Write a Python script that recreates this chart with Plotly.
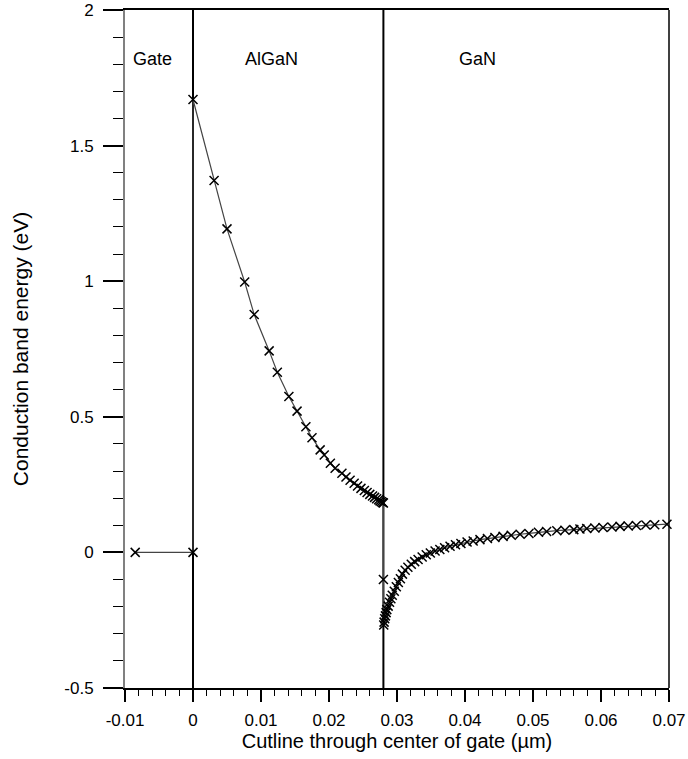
import plotly.graph_objects as go

# ---- data ----
gate_x = [-0.0085, 0.0]
gate_y = [0.0, 0.0]

algan_x = [0.0, 0.0031, 0.0050, 0.0076, 0.0090, 0.0112, 0.0124, 0.0141, 0.0153, 0.0166,
           0.0175, 0.0187, 0.0193, 0.0202, 0.0209, 0.0219, 0.0225, 0.0231, 0.0237, 0.0242,
           0.0247, 0.0252, 0.0256, 0.0260, 0.0264, 0.0267, 0.0270, 0.0273, 0.0275, 0.0277,
           0.0279, 0.0280]
algan_y = [1.67, 1.371, 1.193, 0.997, 0.877, 0.743, 0.664, 0.575, 0.521, 0.463,
           0.423, 0.378, 0.359, 0.329, 0.310, 0.292, 0.278, 0.266, 0.255, 0.245,
           0.236, 0.228, 0.221, 0.214, 0.208, 0.203, 0.198, 0.194, 0.190, 0.187,
           0.184, 0.182]

gan_x = [0.0280, 0.02805, 0.0281, 0.0282, 0.0283, 0.0284, 0.0285, 0.0287, 0.0289, 0.0291,
         0.0293, 0.0296, 0.0299, 0.0302, 0.0305, 0.0308, 0.0312, 0.0316, 0.0321, 0.0326,
         0.0331, 0.0337, 0.0343, 0.0349, 0.0356, 0.0363, 0.0370, 0.0378, 0.0386, 0.0394,
         0.0403, 0.0412, 0.0422, 0.0433, 0.0444, 0.0456, 0.0468, 0.0481, 0.0494, 0.0508,
         0.0520, 0.0535, 0.0547, 0.0560, 0.0569, 0.0579, 0.0591, 0.0603, 0.0616, 0.0628,
         0.0640, 0.0652, 0.0666, 0.0679, 0.0697]
gan_y = [-0.100, -0.268, -0.257, -0.245, -0.234, -0.222, -0.211, -0.198, -0.184, -0.171,
         -0.158, -0.143, -0.127, -0.111, -0.097, -0.080, -0.066, -0.055, -0.044, -0.034,
         -0.026, -0.017, -0.009, -0.002, 0.005, 0.011, 0.017, 0.023, 0.028, 0.033,
         0.038, 0.042, 0.047, 0.051, 0.055, 0.059, 0.063, 0.067, 0.070, 0.074,
         0.077, 0.080, 0.082, 0.084, 0.086, 0.088, 0.090, 0.092, 0.094, 0.096,
         0.097, 0.099, 0.101, 0.102, 0.104]

boundaries = [0.0, 0.028]
regions = ["Gate", "AlGaN", "GaN"]
region_x = [-0.0059, 0.0116, 0.0419]
region_y = 1.82

x_ticks = [-0.01, 0, 0.01, 0.02, 0.03, 0.04, 0.05, 0.06, 0.07]
x_labels = ["-0.01", "0", "0.01", "0.02", "0.03", "0.04", "0.05", "0.06", "0.07"]
y_ticks = [-0.5, 0, 0.5, 1, 1.5, 2]
y_labels = ["-0.5", "0", "0.5", "1", "1.5", "2"]

FONT = "Liberation Sans, Arial, sans-serif"

fig = go.Figure()

for bx in boundaries:
    fig.add_shape(type="line", x0=bx, x1=bx, xref="x", y0=0, y1=1, yref="paper",
                  line=dict(color="black", width=2), layer="below")

all_x = gate_x + algan_x + gan_x
all_y = gate_y + algan_y + gan_y
fig.add_trace(go.Scatter(
    x=all_x, y=all_y, mode="lines+markers",
    line=dict(color="#444444", width=1.2),
    marker=dict(symbol="x-thin", size=9, line=dict(color="black", width=1.5)),
    showlegend=False, hoverinfo="skip", cliponaxis=False))

for name, rx in zip(regions, region_x):
    fig.add_annotation(x=rx, y=region_y, text=name, showarrow=False,
                       font=dict(family=FONT, size=18, color="black"),
                       xanchor="center", yanchor="middle")

# right border
fig.add_shape(type="line", x0=1, x1=1, xref="paper", y0=0, y1=1, yref="paper",
              line=dict(color="black", width=1.5))

fig.update_layout(
    width=688, height=759,
    margin=dict(l=125, r=19, t=10, b=71, autoexpand=False),
    paper_bgcolor="white", plot_bgcolor="white",
    font=dict(family=FONT, size=17, color="black"),
    xaxis=dict(range=[-0.01, 0.07], tickvals=x_ticks, ticktext=x_labels,
               ticks="outside", ticklen=12, tickwidth=1.5, tickcolor="black",
               minor=dict(dtick=0.002, ticks="outside", ticklen=6, tickwidth=1, tickcolor="black"),
               showline=True, linecolor="black", linewidth=1.5, mirror=True,
               showgrid=False, zeroline=False, automargin=False,
               ticklabeloverflow="allow",
               tickfont=dict(family=FONT, size=17), ticklabelstandoff=4,
               title=dict(text="Cutline through center of gate (µm)",
                          font=dict(family=FONT, size=20), standoff=4)),
    yaxis=dict(range=[-0.5, 2], tickvals=y_ticks, ticktext=y_labels,
               ticks="outside", ticklen=20, tickwidth=1.5, tickcolor="black",
               minor=dict(dtick=0.1, ticks="outside", ticklen=10, tickwidth=1, tickcolor="black"),
               showline=True, linecolor="#808080", linewidth=2,
               showgrid=False, zeroline=False, automargin=False,
               ticklabeloverflow="allow",
               tickfont=dict(family=FONT, size=17), ticklabelstandoff=6,
               title=dict(text="Conduction band energy (eV)",
                          font=dict(family=FONT, size=21), standoff=30)),
)

fig.write_html("out.html")
